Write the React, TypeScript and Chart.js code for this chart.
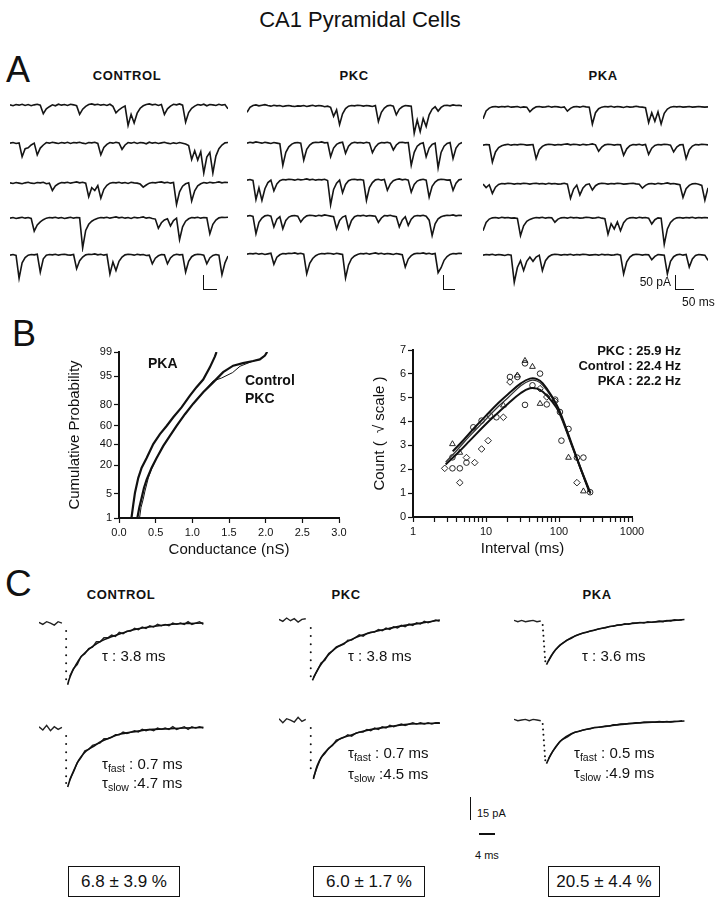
import React, { useEffect, useRef } from 'react';
import { Chart, registerables, LinearScale } from 'chart.js';

Chart.register(...registerables);

const FONT = '"Liberation Sans", Arial, Helvetica, sans-serif';
const INK = '#111';
Chart.defaults.font.family = FONT;
Chart.defaults.color = INK;

// ================= DATA =================
// Panel A: spontaneous currents (pA), one sample per ~3 px
const ctrlRow1 = [1,-2,2,0,3,-1,2,-2,1,3, 0,-28,-12,-5,1,-2,3,0,2,-1, 3,1,-2,-30,-13,-4,2,4,1,3, 0,2,-1,3,-4,-25,-15,-8,-3,-66, -30,-58,-26,-10,-2,2,4,1,3,-1, 2,-30,-12,-3,3,1,4,0,-55,-24, -10,-3,2,0,3,-2,2,1,-1,3, 0,2,-12];
const ctrlRow2 = [0,2,-1,1,-44,-18,-15,-6,0,-38, -16,-6,2,0,3,1,-1,2,0,3, -1,2,1,3,0,-2,2,1,3,-1, -38,-14,-4,2,0,3,1,-20,-6,2, 0,3,-1,2,1,-2,3,0,2,-1, 1,3,0,-2,1,-1,2,0,-3,-8, -53,-25,-55,-28,-97,-45,-30,-97,-42,-18, -6,1,2];
const ctrlRow3 = [1,-1,2,0,-2,1,3,0,-1,2, 1,3,-2,0,-24,-9,-2,2,1,3, 0,2,4,1,3,0,-44,-15,-24,-8, -49,-20,-7,0,2,1,3,0,2,-1, 3,1,0,-3,-13,-6,0,2,1,3, 4,1,3,0,2,-69,-28,-10,-2,1, -58,-25,-9,-2,2,0,3,1,2,4, 1,3,2];
const ctrlRow4 = [0,2,-1,1,3,0,2,-1,-42,-22, -12,-5,0,2,1,3,0,2,-1,1, 3,0,2,1,-97,-40,-20,-10,-4,0, 2,1,3,0,2,4,1,3,0,2, -1,3,1,2,4,0,2,-1,-3,-33, -15,-6,-2,-25,-8,0,-70,-28,-10,-2, 2,1,3,0,2,1,-51,-20,-6,1, 3,2,3];
const ctrlRow5 = [0,2,-1,-75,-25,-8,0,2,1,3, -55,-12,0,2,1,3,0,2,3,1, 0,2,-44,-18,-6,1,3,2,4,1, 3,0,2,-61,-22,-50,-20,-6,1,3, 2,0,3,1,2,-1,0,-28,-10,-2, 2,1,-28,-9,0,3,1,2,-55,-20, -5,1,3,2,0,-28,-9,-1,2,0, -64,-25,-3];

const pkcRow1 = [-20,-4,2,4,1,3,5,2,0,3, 1,2,-1,1,2,0,-1,1,0,2, -1,1,3,0,2,1,-2,0,-4,-33, -12,-60,-25,-8,0,2,1,3,2,0, 2,1,-1,2,-50,-20,-6,1,3,0, -28,-10,-2,2,1,0,-88,-45,-83,-40, -66,-28,-10,-2,-16,-4,2,3,1,4, 2,3,1];
const pkcRow2 = [0,3,1,4,2,0,3,1,-1,2, 0,-2,-72,-30,-12,-3,1,2,0,-55, -20,-6,1,3,2,4,1,2,-44,-16, -4,1,3,-33,-10,0,3,1,2,0, 3,1,-31,-12,-2,2,1,3,0,-22, -6,2,3,1,2,-72,-30,-10,-2,1, -44,-16,-4,0,-80,-30,-10,-1,2,-50, -16,-3,2];
const pkcRow3 = [0,2,-1,-63,-25,-66,-28,-8,0,-35, -12,-2,2,1,3,2,0,3,1,2, 4,1,3,0,2,1,3,-1,-80,-30, -10,0,-41,-14,-2,2,3,1,2,0, -66,-24,-8,1,3,0,2,-33,-12,-2, 2,4,1,3,0,-39,-14,-3,1,3, 0,-55,-20,-6,1,3,2,0,1,-33, -10,1,3];
const pkcRow4 = [0,2,-1,-57,-20,-6,1,3,0,-35, -10,-2,-41,-14,-3,1,2,0,-19,-6, 1,3,2,0,3,1,4,2,0,-2, -41,-14,-3,1,-41,-14,-2,2,1,3, 0,2,1,0,-20,-6,2,1,3,0, -2,-35,-12,-2,-30,-10,0,2,1,3, 0,-13,-63,-25,-9,-2,1,3,2,4, 1,3,2];
const pkcRow5 = [0,2,1,3,0,2,-1,1,3,-33, -10,-2,2,1,3,2,4,1,3,0, -64,-30,-14,-5,0,2,1,3,2,0, 3,1,-1,-77,-35,-15,-6,-1,2,1, 3,0,2,4,1,3,0,2,1,-1, 2,0,-2,-42,-16,-5,1,3,2,4, 1,3,0,2,-60,-44,-20,-8,-1,2, 1,3,2];

const pkaRow1 = [-38,-12,-3,1,2,0,2,1,3,0, 1,2,-1,1,0,-15,-5,1,2,0, 1,3,0,2,1,-1,1,-13,-4,1, 2,0,3,1,0,-55,-18,-5,0,2, 1,3,0,2,1,-1,2,0,1,3, 1,0,-2,-50,-18,-46,-15,-55,-20,-6, 0,2,1,2,0,1,2,0,1,2, 1,0,1];
const pkaRow2 = [0,2,1,-55,-22,-8,-2,1,3,0, 2,1,3,2,0,1,2,-44,-15,-4, 1,3,2,0,2,1,3,4,1,3, 2,0,3,1,2,4,1,-20,-6,1, 3,2,0,2,1,-33,-12,-2,2,1, 3,0,2,-30,-10,-1,2,1,3,2, 0,-22,-6,1,2,-44,-15,-3,2,1, 3,2,1];
const pkaRow3 = [0,-11,-2,-30,-10,-1,2,1,3,2, 0,2,1,3,2,0,2,3,1,2, 0,3,1,2,0,1,3,0,-46,-16, -3,-35,-12,-2,1,-19,-5,1,3,2, 0,2,1,3,2,0,1,2,3,1, 0,-13,-4,1,2,0,3,1,2,4, 1,2,0,-2,-43,-15,-4,1,2,0, -4,-52,-12];
const pkaRow4 = [-41,-14,-3,1,2,0,3,1,2,0, 1,-1,-57,-25,-10,-4,0,2,1,3, 0,2,1,-13,-3,1,2,0,3,1, 2,0,1,3,2,0,1,3,0,-2, -52,-18,-35,-12,-41,-15,-3,1,2,0, 3,1,2,0,-19,-5,1,0,-85,-35, -14,-4,1,2,0,2,1,3,0,2, 1,2,1];
const pkaRow5 = [0,2,1,3,0,2,1,-1,2,0, -88,-40,-18,-50,-20,-6,-20,-6,0,-50, -18,-5,1,3,2,0,2,1,3,0, 2,1,3,2,0,1,2,0,3,1, 2,0,1,3,0,-61,-22,-6,1,3, 2,0,2,1,-15,-4,2,1,0,-61, -20,-5,1,3,0,2,-39,-12,-1,2, 1,0,-17];

// Panel B left: cumulative amplitude distributions
const condTicks = [0, 0.5, 1, 1.5, 2, 2.5, 3];
const probTicks = [1, 5, 20, 40, 60, 80, 95, 99];
const pkaCondX = [0.17,0.195,0.218,0.263,0.309,0.377,0.467,0.558,0.649,0.74,0.853,0.967,1.057,1.148,1.239,1.307,1.33];
const pkaCumY = [1,2.6,5.3,11.5,18,26,40,51,60,69,78,86.5,91,94,97.1,98.6,99];
const ctrlCondX = [0.25,0.277,0.309,0.34,0.377,0.445,0.513,0.604,0.694,0.785,0.899,1.012,1.148,1.284,1.42,1.557,1.69,1.83,1.92,1.99,2.02];
const ctrlCumY = [1,2.1,3.9,6.9,10.6,18,26,38,49,60,72,81,88.5,93,96.1,97.4,97.8,98.1,98.3,98.7,99];
const pkcCondX = [0.28,0.3,0.33,0.354,0.4,0.445,0.513,0.604,0.694,0.785,0.899,1.012,1.148,1.284,1.4,1.55,1.65,1.83,1.92,1.99,2.02];
const pkcCumY = [1,2.1,3.6,5.8,11.5,17,26,38,49,60,72,81,88.5,93.5,94.5,96,97.3,98.1,98.3,98.7,99];

// Panel B right: interval histograms (sqrt count) and fits
const intervalTicks = [1,2,3,4,5,6,7,8,9,10,20,30,40,50,60,70,80,90,100,200,300,400,500,600,700,800,900,1000];
const intervalLabels = [1, 10, 100, 1000];
const ctrlIntX = [3.47,4.38,3.47,5.4,6.7,8.7,11.3,13.9,21.3,26.9,34.2,34.2,43.3,55,68,88.6,103,108,135,176,216,267];
const ctrlIntY = [2.04,2.04,2.5,2.28,3.76,4.04,4.25,4.18,5.87,5.87,4.7,6.44,5.52,6.01,4.72,4.92,4.4,3.2,3.69,2.49,2.49,1.04];
const pkcIntX = [3.47,4.38,17.3,26.9,34.2,43.3,55,135,216];
const pkcIntY = [3.06,2.7,4.68,5.94,6.55,6.3,4.75,2.49,1.08];
const pkaIntX = [2.72,4.38,5.4,7.0,8.7,10.7,17.3,21.3,55,68,88.6,176];
const pkaIntY = [2.04,1.44,2.49,2.28,2.85,3.2,4.18,5.66,5.38,5.03,4.85,1.44];
const pkcFitX = [3.5,5,7,10,15,20,30,40,50,60,80,100,150,200,260];
const pkcFitY = [2.75,3.25,3.75,4.25,4.8,5.15,5.6,5.8,5.78,5.6,5.05,4.5,3.05,2.0,1.05];
const ctrlFitX = [2.8,4,6,10,15,20,30,40,50,60,80,100,150,200,270];
const ctrlFitY = [2.3,2.8,3.4,4.1,4.65,5.0,5.5,5.72,5.7,5.52,5.0,4.45,3.0,1.95,0.95];
const pkaFitX = [2.8,4,6,10,15,20,30,40,50,60,80,100,150,200,270];
const pkaFitY = [2.2,2.65,3.2,3.9,4.4,4.75,5.2,5.4,5.38,5.25,4.85,4.4,3.0,2.0,1.0];

// Panel C: averaged events, data on a 1 ms grid (null = fast rise), fall dots, and fits
const ctrlTopData = [0.5,-1,1,0,-1.5,1,0,null,-40,-34,-31,-25,-23,-19,-18,-14,-14,-11,-11,-9,-10,-7,-8,-6,-6,-4,-5,-3,-4,-2,-3,-1,-2,-1,-2,0,-1,0,-1,1,-1,0,1,-1];
const ctrlTopFallT = [7.1,7.1,7.1,7.1,7.1,7.1,7.1];
const ctrlTopFallV = [-6,-12,-18,-24,-30,-36,-42];
const ctrlTopFitT = [7.5,7.9,8.75,9.6,10.8,12.1,13.75,16.25,18.75,21.25,24.5,28.75,33,38,43];
const ctrlTopFitV = [-46,-42,-36,-31.5,-26,-22,-18,-13.5,-10.5,-8,-5.2,-3,-1.5,-0.4,0];

const ctrlBotData = [1,-1.5,2,-2,1,-1,0.5,null,-39,-33,-26,-22,-17,-16,-13,-12,-11,-8,-8,-7,-5,-5,-3,-4,-3,-2,-3,-1,-2,-1,-2,0,-1,0,-1,1,-1,0,1,-1,1,0,1,0];
const ctrlBotFallT = [7.1,7.1,7.1,7.1,7.1,7.1,7.1];
const ctrlBotFallV = [-6,-12,-18,-24,-30,-36,-41];
const ctrlBotFitT = [7.5,8.3,9.2,10.4,11.7,12.9,14.6,16.25,18.75,21.25,24.5,28.75,33,38,43];
const ctrlBotFitV = [-44,-37,-31,-24,-19,-16,-13,-10,-7,-4.5,-3,-1.2,-0.7,0,0.5];

const pkcTopData = [0.5,-1,1.5,-0.5,1,-1.5,0.5,1,null,-43,-38,-32,-30,-25,-23,-20,-19,-18,-15,-15,-13,-11,-12,-10,-9,-9,-7,-8,-6,-7,-5,-6,-4,-5,-3,-4,-2,-3,-1,-2,-1,0,-1];
const pkcTopFallT = [8.3,8.3,8.3,8.3,8.3,8.3,8.3];
const pkcTopFallV = [-6,-12,-18,-24,-30,-36,-42];
const pkcTopFitT = [8.75,10,11.25,12.9,14.6,16.25,18.75,21.25,24.6,28.75,32.9,37.1,42.1];
const pkcTopFitV = [-45,-37.5,-32,-26,-21.5,-18.6,-14.8,-11.8,-9,-6.3,-4,-2.3,0];

const pkcBotData = [1,-2,1,0,-1.5,2,-1,0.5,null,-43,-35,-28,-25,-21,-19,-15,-14,-13,-11,-12,-10,-9,-9,-7,-8,-6,-7,-5,-6,-4,-5,-4,-3,-4,-3,-2,-3,-2,-3,-2,-3,-2,-2];
const pkcBotFallT = [8.3,8.3,8.3,8.3,8.3,8.3];
const pkcBotFallV = [-6,-12,-18,-24,-30,-36];
const pkcBotFitT = [9,10,11.25,12.9,14.6,16.25,18.75,21.25,24.6,28.75,32.9,37.1,42.1];
const pkcBotFitV = [-44,-34,-27,-21.5,-17,-13.6,-11.3,-9,-6.8,-5,-3.4,-2.7,-2.3];

const pkaTopData = [0.5,-0.5,0.5,-0.5,0,0.5,-0.5,0,null,-30,-25,-21,-18,-16,-14,-13,-11,-10,-9,-8.5,-7.5,-7,-6,-5.5,-5,-4,-4,-3,-3,-2,-2.5,-1.5,-1.5,-1,-1.5,-0.5,-1,-0.5,0,-0.5,0.5,0,1,0.5,1];
const pkaTopFallT = [7.5,7.6,7.7,7.8,7.9,8.0,8.1,8.2];
const pkaTopFallV = [-3,-7,-11,-15,-19,-23,-27,-30];
const pkaTopFitT = [8.5,9.6,10.8,12.5,15,17.5,20,23.3,27.5,31.7,36.7,41.7,44.6];
const pkaTopFitV = [-32.5,-26.5,-21.6,-17,-12.5,-9.5,-7.5,-5.2,-3,-1.6,-0.7,0.5,1.1];

const pkaBotData = [0.5,-0.5,0,0.5,-0.5,0.5,0,-0.5,null,-29,-24,-20,-16,-14,-12.5,-10.5,-9,-8.5,-7.5,-7,-6.5,-5.5,-5.5,-5,-4.5,-4.5,-3.5,-3.5,-3,-3,-2.5,-2.5,-2,-2,-1.5,-1.5,-1.5,-1.5,-1,-1.5,-1,-1.5,-1,-1,-0.5];
const pkaBotFallT = [7.5,7.6,7.7,7.8,7.9,8.0,8.1,8.2];
const pkaBotFallV = [-3,-7,-11,-15,-19,-23,-27,-30];
const pkaBotFitT = [8.5,9.6,10.8,12.5,15,17.5,20,23.3,27.5,31.7,36.7,41.7,44.6];
const pkaBotFitV = [-32.5,-26,-20.5,-14.8,-10.2,-8,-6.3,-5,-3.4,-2.3,-1.6,-1.2,-0.7];

const fractions = ['6.8 ± 3.9 %', '6.0 ± 1.7 %', '20.5 ± 4.4 %'];

// ================= PROBIT SCALE =================
function probit(p: number): number {
  const a = [-3.969683028665376e1, 2.209460984245205e2, -2.759285104469687e2, 1.38357751867269e2, -3.066479806614716e1, 2.506628277459239];
  const b = [-5.447609879822406e1, 1.615858368580409e2, -1.556989798598866e2, 6.680131188771972e1, -1.328068155288572e1];
  const c = [-7.784894002430293e-3, -3.223964580411365e-1, -2.400758277161838, -2.549732539343734, 4.374664141464968, 2.938163982698783];
  const d = [7.784695709041462e-3, 3.224671290700398e-1, 2.445134137142996, 3.754408661907416];
  const pl = 0.02425;
  let q: number, r: number;
  if (p < pl) {
    q = Math.sqrt(-2 * Math.log(p));
    return (((((c[0] * q + c[1]) * q + c[2]) * q + c[3]) * q + c[4]) * q + c[5]) / ((((d[0] * q + d[1]) * q + d[2]) * q + d[3]) * q + 1);
  }
  if (p <= 1 - pl) {
    q = p - 0.5; r = q * q;
    return (((((a[0] * r + a[1]) * r + a[2]) * r + a[3]) * r + a[4]) * r + a[5]) * q / (((((b[0] * r + b[1]) * r + b[2]) * r + b[3]) * r + b[4]) * r + 1);
  }
  q = Math.sqrt(-2 * Math.log(1 - p));
  return -(((((c[0] * q + c[1]) * q + c[2]) * q + c[3]) * q + c[4]) * q + c[5]) / ((((d[0] * q + d[1]) * q + d[2]) * q + d[3]) * q + 1);
}

class ProbitScale extends LinearScale {
  static id = 'probit';
  determineDataLimits() {
    const o: any = (this as any).options;
    (this as any).min = o.min ?? 1;
    (this as any).max = o.max ?? 99;
  }
  buildTicks() {
    return probTicks.map((v) => ({ value: v }));
  }
  getPixelForValue(value: number) {
    const self: any = this;
    const lo = probit(self.min / 100);
    const hi = probit(self.max / 100);
    const p = Math.min(Math.max(value, 0.01), 99.99) / 100;
    return self.getPixelForDecimal((probit(p) - lo) / (hi - lo));
  }
  getValueForPixel(pixel: number) {
    const self: any = this;
    const dec = self.getDecimalForPixel(pixel);
    let a = 0.01, b = 99.99;
    const lo = probit(self.min / 100), hi = probit(self.max / 100);
    for (let i = 0; i < 40; i++) {
      const m = (a + b) / 2;
      if ((probit(m / 100) - lo) / (hi - lo) < dec) a = m; else b = m;
    }
    return (a + b) / 2;
  }
}
Chart.register(ProbitScale as any);

// ================= HELPERS =================
const pts = (xs: number[], ys: (number | null)[]) => xs.map((x, i) => ({ x, y: ys[i] }));
const grid = (ys: (number | null)[]) => ys.map((y, i) => ({ x: i, y }));

const base: any = {
  animation: false,
  responsive: false,
  devicePixelRatio: 1,
  events: [],
  plugins: { legend: { display: false }, tooltip: { enabled: false } },
};

function ChartBox({ x, y, w, h, config }: any) {
  const ref = useRef<HTMLCanvasElement>(null);
  useEffect(() => {
    const chart = new Chart(ref.current as HTMLCanvasElement, config());
    return () => chart.destroy();
  }, []);
  return <canvas ref={ref} width={w} height={h} style={{ position: 'absolute', left: x, top: y, width: w, height: h }} />;
}

function Txt({ x, y, size, bold, anchor, children, spacing }: any) {
  const L = Math.round(size * 1.25);
  const st: any = {
    position: 'absolute', top: y - L / 2, lineHeight: L + 'px', fontSize: size,
    fontWeight: bold ? 700 : 400, whiteSpace: 'nowrap', letterSpacing: spacing || 0,
  };
  if (anchor === 'center') { st.left = x; st.transform = 'translateX(-50%)'; }
  else if (anchor === 'right') { st.right = 720 - x; }
  else { st.left = x; }
  return <div style={st}>{children}</div>;
}

function Bar({ x, y, w, h }: any) {
  return <div style={{ position: 'absolute', left: x, top: y, width: w, height: h, background: INK }} />;
}

function Tau({ sub }: any) {
  return (
    <span>τ{sub ? <span style={{ fontSize: '0.7em', position: 'relative', top: '0.35em' }}>{sub}</span> : null}</span>
  );
}

// ---- configs ----
const traceConfig = (values: number[]) => () => ({
  type: 'line',
  data: {
    labels: values.map((_, i) => i),
    datasets: [{ data: values, borderColor: '#151515', borderWidth: 1.6, pointRadius: 0, tension: 0 }],
  },
  options: {
    ...base,
    layout: { padding: 0 },
    scales: { x: { display: false }, y: { display: false, min: -110, max: 20 } },
  },
});

const epscConfig = (data: any[], fallT: number[], fallV: number[], fitT: number[], fitV: number[]) => () => ({
  type: 'line',
  data: {
    datasets: [
      { data: pts(fitT, fitV), borderColor: INK, borderWidth: 1.6, pointRadius: 0, tension: 0.4 },
      { data: grid(data), borderColor: '#222', borderWidth: 1.4, pointRadius: 0, spanGaps: false, tension: 0 },
      { data: pts(fallT, fallV), showLine: false, pointRadius: 1, pointBorderWidth: 0, pointBackgroundColor: INK },
    ],
  },
  options: {
    ...base,
    layout: { padding: 0 },
    scales: {
      x: { type: 'linear', display: false, min: 0, max: 45 },
      y: { display: false, min: -55.2, max: 6 },
    },
  },
});

const axisCommon = {
  grid: { display: true, drawOnChartArea: false, drawTicks: true, tickLength: 5, color: INK, tickWidth: 1.2 },
  border: { display: true, color: INK, width: 2 },
};

const cumConfig = () => ({
  type: 'scatter',
  data: {
    datasets: [
      { data: pts(pkcCondX, pkcCumY), showLine: true, borderColor: INK, borderWidth: 1, pointRadius: 0 },
      { data: pts(ctrlCondX, ctrlCumY), showLine: true, borderColor: INK, borderWidth: 2.2, pointRadius: 0 },
      { data: pts(pkaCondX, pkaCumY), showLine: true, borderColor: INK, borderWidth: 2.2, pointRadius: 0 },
    ],
  },
  options: {
    ...base,
    layout: { padding: { top: 14, right: 20, left: 0, bottom: 0 } },
    scales: {
      x: {
        type: 'linear', min: 0, max: 3, ...axisCommon,
        afterBuildTicks: (s: any) => { s.ticks = condTicks.map((v) => ({ value: v })); },
        afterFit: (s: any) => { s.height = 45; },
        ticks: { autoSkip: false, maxRotation: 0, padding: 3, font: { size: 11 }, color: INK, callback: (v: any) => Number(v).toFixed(1) },
        title: { display: true, text: 'Conductance (nS)', font: { size: 15 }, color: INK, padding: { top: 0, bottom: 4 } },
      },
      y: {
        type: 'probit', position: 'left', min: 1, max: 99, ...axisCommon,
        afterFit: (s: any) => { s.width = 79; },
        ticks: { autoSkip: false, padding: 2, font: { size: 11 }, color: INK, callback: (v: any) => String(v) },
        title: { display: true, text: 'Cumulative Probability', font: { size: 15 }, color: INK, padding: { top: 26, bottom: 0 } },
      },
    },
  },
});

const marker = (style: string, r: number) => ({
  showLine: false, pointStyle: style, pointRadius: r, pointBorderColor: INK, pointBorderWidth: 0.9,
  pointBackgroundColor: 'rgba(255,255,255,0)',
});

const intConfig = () => ({
  type: 'scatter',
  data: {
    datasets: [
      { data: pts(pkcFitX, pkcFitY), showLine: true, borderColor: INK, borderWidth: 2, pointRadius: 0, tension: 0.4 },
      { data: pts(ctrlFitX, ctrlFitY), showLine: true, borderColor: '#333', borderWidth: 1.3, pointRadius: 0, tension: 0.4 },
      { data: pts(pkaFitX, pkaFitY), showLine: true, borderColor: INK, borderWidth: 2, pointRadius: 0, tension: 0.4 },
      { data: pts(ctrlIntX, ctrlIntY), ...marker('circle', 2.8) },
      { data: pts(pkcIntX, pkcIntY), ...marker('triangle', 3.3) },
      { data: pts(pkaIntX, pkaIntY), ...marker('rectRot', 3.3) },
    ],
  },
  options: {
    ...base,
    layout: { padding: { top: 14, right: 20, left: 0, bottom: 0 } },
    scales: {
      x: {
        type: 'logarithmic', min: 1, max: 1000, ...axisCommon,
        afterBuildTicks: (s: any) => { s.ticks = intervalTicks.map((v) => ({ value: v, major: intervalLabels.includes(v) })); },
        afterFit: (s: any) => { s.height = 45; },
        ticks: {
          autoSkip: false, maxRotation: 0, padding: 3, font: { size: 11 }, color: INK,
          callback: (v: any) => (intervalLabels.includes(Number(v)) ? String(v) : ''),
        },
        title: { display: true, text: 'Interval (ms)', font: { size: 15 }, color: INK, padding: { top: 0, bottom: 4 } },
      },
      y: {
        type: 'linear', position: 'left', min: 0, max: 7, ...axisCommon,
        afterFit: (s: any) => { s.width = 73; },
        ticks: { stepSize: 1, padding: 2, font: { size: 11 }, color: INK },
        title: { display: true, text: 'Count (  √ scale )', font: { size: 15 }, color: INK, padding: { top: 31, bottom: 0 } },
      },
    },
  },
});

// ================= LAYOUT =================
const A_COLUMNS = [
  { x: 10, w: 218, rows: [ctrlRow1, ctrlRow2, ctrlRow3, ctrlRow4, ctrlRow5], baselines: [105, 143, 182.5, 217.5, 255] },
  { x: 247, w: 215, rows: [pkcRow1, pkcRow2, pkcRow3, pkcRow4, pkcRow5], baselines: [106, 142.5, 180, 216, 253.5] },
  { x: 483, w: 225, rows: [pkaRow1, pkaRow2, pkaRow3, pkaRow4, pkaRow5], baselines: [107, 145, 184, 218, 255] },
];

const C_TRACES = [
  { x: 35, base: 620, cfg: epscConfig(ctrlTopData, ctrlTopFallT, ctrlTopFallV, ctrlTopFitT, ctrlTopFitV) },
  { x: 35, base: 725, cfg: epscConfig(ctrlBotData, ctrlBotFallT, ctrlBotFallV, ctrlBotFitT, ctrlBotFitV) },
  { x: 275, base: 617, cfg: epscConfig(pkcTopData, pkcTopFallT, pkcTopFallV, pkcTopFitT, pkcTopFitV) },
  { x: 275, base: 717, cfg: epscConfig(pkcBotData, pkcBotFallT, pkcBotFallV, pkcBotFitT, pkcBotFitV) },
  { x: 510, base: 618, cfg: epscConfig(pkaTopData, pkaTopFallT, pkaTopFallV, pkaTopFitT, pkaTopFitV) },
  { x: 510, base: 717, cfg: epscConfig(pkaBotData, pkaBotFallT, pkaBotFallV, pkaBotFitT, pkaBotFitV) },
];

const BOX_X = [68, 313, 548];

export default function App() {
  return (
    <div style={{ position: 'absolute', left: 0, top: 0, width: 720, height: 900, background: '#fff', overflow: 'hidden', fontFamily: FONT, color: INK }}>
      {/* Panel A traces */}
      {A_COLUMNS.map((col, ci) =>
        col.rows.map((row, ri) => (
          <ChartBox key={`a${ci}${ri}`} x={col.x} y={col.baselines[ri] - 6} w={col.w} h={40} config={traceConfig(row)} />
        ))
      )}
      {/* Panel B */}
      <ChartBox x={40} y={338} w={319} h={225} config={cumConfig} />
      <ChartBox x={340} y={336} w={312} h={226} config={intConfig} />
      {/* Panel C */}
      {C_TRACES.map((t, i) => (
        <ChartBox key={`c${i}`} x={t.x} y={t.base - 8.82} w={180} h={90} config={t.cfg} />
      ))}

      {/* Titles and labels */}
      <Txt x={360} y={20} size={22} anchor="center">CA1 Pyramidal Cells</Txt>
      <Txt x={6} y={69} size={36}>A</Txt>
      <Txt x={127} y={76} size={13} bold anchor="center" spacing={0.6}>CONTROL</Txt>
      <Txt x={354} y={76} size={13} bold anchor="center" spacing={0.6}>PKC</Txt>
      <Txt x={603} y={76} size={13} bold anchor="center" spacing={0.6}>PKA</Txt>

      {/* Panel A scale bars */}
      <Bar x={202.5} y={275} w={1.5} h={15} />
      <Bar x={204} y={288.5} w={13} h={1.5} />
      <Bar x={442.5} y={275} w={1.5} h={15} />
      <Bar x={444} y={288.5} w={11} h={1.5} />
      <Bar x={674.5} y={275} w={1.5} h={15} />
      <Bar x={676} y={288.5} w={18} h={1.5} />
      <Txt x={671} y={282} size={12} anchor="right">50 pA</Txt>
      <Txt x={682} y={302} size={12}>50 ms</Txt>

      <Txt x={12} y={333} size={36}>B</Txt>
      <Txt x={148} y={363} size={14} bold>PKA</Txt>
      <Txt x={245} y={380} size={14} bold>Control</Txt>
      <Txt x={245} y={398} size={14} bold>PKC</Txt>
      <Txt x={681} y={351} size={13} bold anchor="right">PKC : 25.9 Hz</Txt>
      <Txt x={681} y={366} size={13} bold anchor="right">Control : 22.4 Hz</Txt>
      <Txt x={681} y={381} size={13} bold anchor="right">PKA : 22.2 Hz</Txt>

      <Txt x={5} y={584} size={37}>C</Txt>
      <Txt x={121} y={595} size={13} bold anchor="center" spacing={0.6}>CONTROL</Txt>
      <Txt x={346} y={595} size={13} bold anchor="center" spacing={0.6}>PKC</Txt>
      <Txt x={597} y={595} size={13} bold anchor="center" spacing={0.6}>PKA</Txt>

      <Txt x={102} y={655} size={15}><Tau /> : 3.8 ms</Txt>
      <Txt x={102} y={763} size={15}><Tau sub="fast" /> : 0.7 ms</Txt>
      <Txt x={102} y={782} size={15}><Tau sub="slow" /> :4.7 ms</Txt>
      <Txt x={348} y={655} size={15}><Tau /> : 3.8 ms</Txt>
      <Txt x={348} y={752} size={15}><Tau sub="fast" /> : 0.7 ms</Txt>
      <Txt x={348} y={773} size={15}><Tau sub="slow" /> :4.5 ms</Txt>
      <Txt x={582} y={655} size={15}><Tau /> : 3.6 ms</Txt>
      <Txt x={574} y={752} size={15}><Tau sub="fast" /> : 0.5 ms</Txt>
      <Txt x={574} y={772} size={15}><Tau sub="slow" /> :4.9 ms</Txt>

      {/* Panel C scale bar */}
      <Bar x={469.5} y={797} w={1.5} h={23} />
      <Bar x={479} y={833} w={16} h={1.5} />
      <Txt x={477} y={813} size={11}>15 pA</Txt>
      <Txt x={475} y={855} size={11}>4 ms</Txt>

      {/* Fraction boxes */}
      {fractions.map((f, i) => (
        <div key={`b${i}`} style={{
          position: 'absolute', left: BOX_X[i], top: 866, width: 112, height: 31, boxSizing: 'border-box',
          border: '1.5px solid ' + INK, display: 'flex', alignItems: 'center', justifyContent: 'center', fontSize: 17,
        }}>{f}</div>
      ))}
    </div>
  );
}
